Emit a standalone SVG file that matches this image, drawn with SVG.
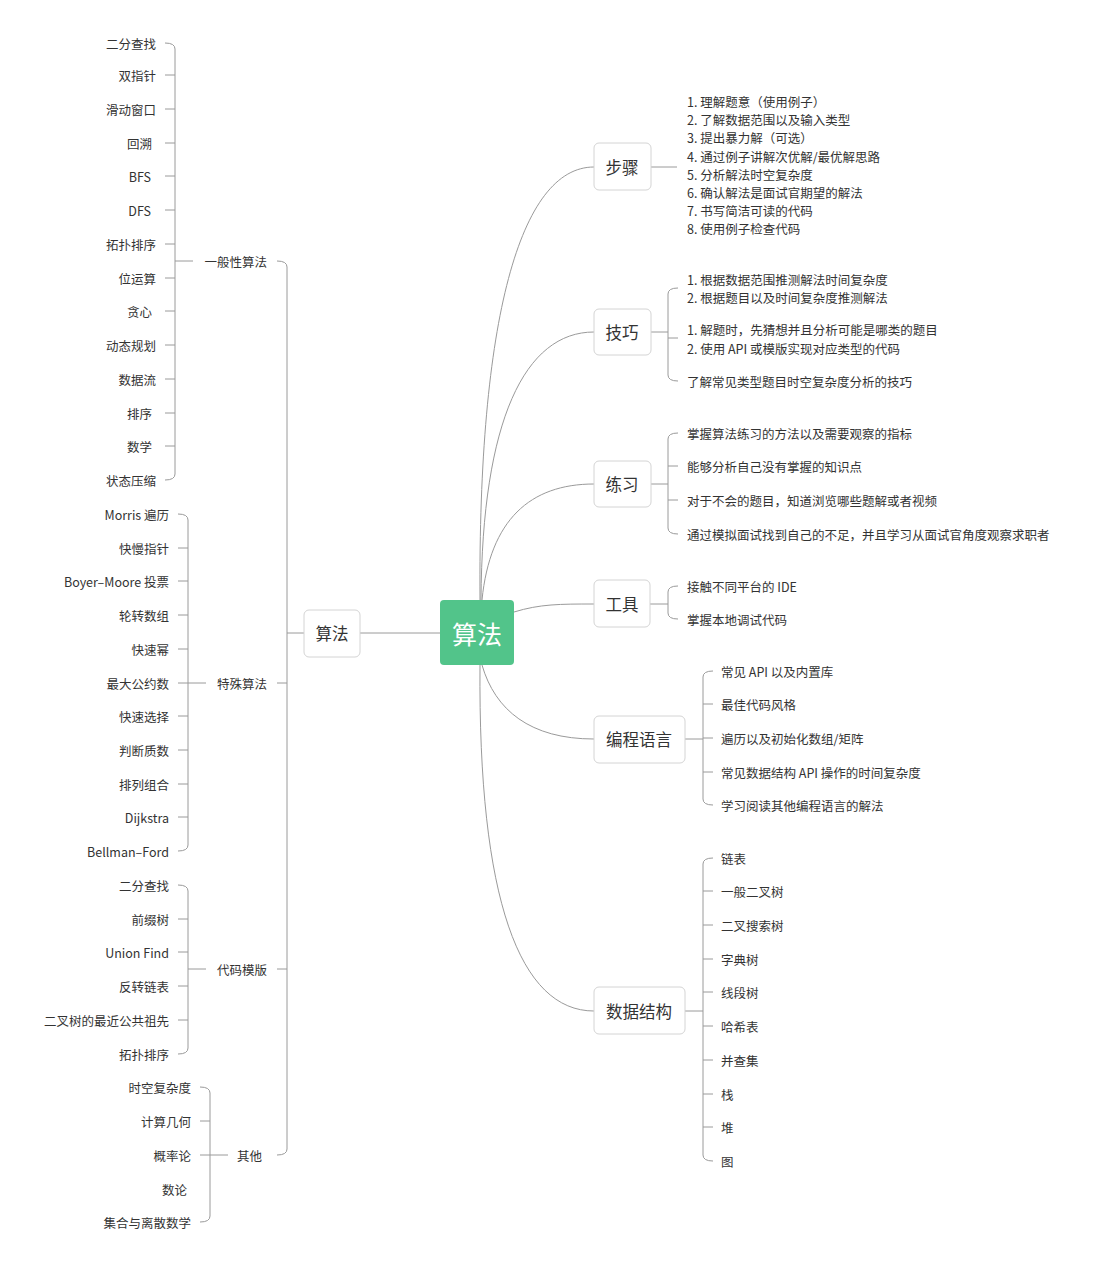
<svg xmlns="http://www.w3.org/2000/svg" width="1103" height="1266" viewBox="0 0 1103 1266">
<style>
text{font-family:"Noto Sans CJK SC","Noto Sans",sans-serif;fill:#333;font-size:12.5px;dominant-baseline:central}
.r{text-anchor:end}
.b{font-size:16.5px;text-anchor:middle}
.ln{fill:none;stroke:#9a9a9a;stroke-width:1}
.box{fill:#fff;stroke:#d4d4d4;stroke-width:1}
</style>
<rect width="1103" height="1266" fill="#fff"/>
<g id="connectors" class="ln">
<path d="M480 600 C478 320 520 167 594 167"/>
<path d="M481 600 C482 420 525 332 594 332"/>
<path d="M482 600 C490 520 530 484 594 484"/>
<path d="M514 612 C540 604 560 604 594 604"/>
<path d="M482 665 C495 710 530 739 594 739"/>
<path d="M480 665 C478 900 520 1011 594 1011"/>
<path d="M360 633 L440 633"/>
<path d="M287 633 L304 633"/>
<path d="M277 261 Q287 261 287 267 L287 1149 Q287 1155 277 1155 M277 683 L287 683 M277 969 L287 969"/>
<path d="M165 43 Q175 43 175 49 L175 474 Q175 480 165 480 M165 75 L175 75 M165 109 L175 109 M165 143 L175 143 M165 176 L175 176 M165 210 L175 210 M165 244 L175 244 M165 278 L175 278 M165 311 L175 311 M165 345 L175 345 M165 379 L175 379 M165 413 L175 413 M165 446 L175 446 M175 261 L193 261"/>
<path d="M178 514 Q188 514 188 520 L188 845 Q188 851 178 851 M178 548 L188 548 M178 581 L188 581 M178 615 L188 615 M178 649 L188 649 M178 683 L188 683 M178 716 L188 716 M178 750 L188 750 M178 784 L188 784 M178 817 L188 817 M188 683 L206 683"/>
<path d="M178 885 Q188 885 188 891 L188 1048 Q188 1054 178 1054 M178 919 L188 919 M178 952 L188 952 M178 986 L188 986 M178 1020 L188 1020 M188 969 L206 969"/>
<path d="M200 1087 Q210 1087 210 1093 L210 1216 Q210 1222 200 1222 M200 1121 L210 1121 M200 1155 L210 1155 M210 1155 L228 1155"/>
<path d="M651 167 L677 167"/>
<path d="M651 332 L668 332 M678 288 Q668 288 668 294 L668 375 Q668 381 678 381 M668 338 L678 338"/>
<path d="M651 484 L668 484 M678 433 Q668 433 668 439 L668 528 Q668 534 678 534 M668 466 L678 466 M668 500 L678 500"/>
<path d="M650 604 L668 604 M678 586 Q668 586 668 592 L668 613 Q668 619 678 619"/>
<path d="M685 739 L703 739 M713 671 Q703 671 703 677 L703 799 Q703 805 713 805 M703 704 L713 704 M703 738 L713 738 M703 772 L713 772"/>
<path d="M685 1011 L703 1011 M713 858 Q703 858 703 864 L703 1155 Q703 1161 713 1161 M703 891 L713 891 M703 925 L713 925 M703 959 L713 959 M703 992 L713 992 M703 1026 L713 1026 M703 1060 L713 1060 M703 1094 L713 1094 M703 1127 L713 1127"/>
</g>
<g id="root"><rect x="440" y="600" width="74" height="65" rx="4" fill="#52c48a"/><text x="477" y="633" class="b" style="font-size:25px;fill:#fff">算法</text></g>
<g id="algo"><rect class="box" x="304" y="610" width="56" height="47" rx="5"/><text x="332" y="633" class="b">算法</text></g>
<g id="general"><text x="267" y="261" class="r">一般性算法</text>
<text x="156" y="43" class="r">二分查找</text><text x="156" y="75" class="r">双指针</text><text x="156" y="109" class="r">滑动窗口</text><text x="152" y="143" class="r">回溯</text><text x="151" y="176" class="r">BFS</text><text x="151" y="210" class="r">DFS</text><text x="156" y="244" class="r">拓扑排序</text><text x="156" y="278" class="r">位运算</text><text x="152" y="311" class="r">贪心</text><text x="156" y="345" class="r">动态规划</text><text x="156" y="379" class="r">数据流</text><text x="152" y="413" class="r">排序</text><text x="152" y="446" class="r">数学</text><text x="156" y="480" class="r">状态压缩</text></g>
<g id="special"><text x="267" y="683" class="r">特殊算法</text>
<text x="169" y="514" class="r">Morris 遍历</text><text x="169" y="548" class="r">快慢指针</text><text x="169" y="581" class="r">Boyer–Moore 投票</text><text x="169" y="615" class="r">轮转数组</text><text x="169" y="649" class="r">快速幂</text><text x="169" y="683" class="r">最大公约数</text><text x="169" y="716" class="r">快速选择</text><text x="169" y="750" class="r">判断质数</text><text x="169" y="784" class="r">排列组合</text><text x="169" y="817" class="r">Dijkstra</text><text x="169" y="851" class="r">Bellman–Ford</text></g>
<g id="template"><text x="267" y="969" class="r">代码模版</text>
<text x="169" y="885" class="r">二分查找</text><text x="169" y="919" class="r">前缀树</text><text x="169" y="952" class="r">Union Find</text><text x="169" y="986" class="r">反转链表</text><text x="169" y="1020" class="r">二叉树的最近公共祖先</text><text x="169" y="1054" class="r">拓扑排序</text></g>
<g id="other"><text x="262" y="1155" class="r">其他</text>
<text x="191" y="1087" class="r">时空复杂度</text><text x="191" y="1121" class="r">计算几何</text><text x="191" y="1155" class="r">概率论</text><text x="187" y="1189" class="r">数论</text><text x="191" y="1222" class="r">集合与离散数学</text></g>
<g id="steps"><rect class="box" x="594" y="143" width="57" height="47" rx="5"/><text x="622" y="167" class="b">步骤</text>
<text x="687" y="101">1. 理解题意（使用例子）</text><text x="687" y="119">2. 了解数据范围以及输入类型</text><text x="687" y="137">3. 提出暴力解（可选）</text><text x="687" y="156">4. 通过例子讲解次优解/最优解思路</text><text x="687" y="174">5. 分析解法时空复杂度</text><text x="687" y="192">6. 确认解法是面试官期望的解法</text><text x="687" y="210">7. 书写简洁可读的代码</text><text x="687" y="228">8. 使用例子检查代码</text></g>
<g id="tips"><rect class="box" x="594" y="309" width="57" height="46" rx="5"/><text x="622" y="332" class="b">技巧</text>
<text x="687" y="279">1. 根据数据范围推测解法时间复杂度</text><text x="687" y="297">2. 根据题目以及时间复杂度推测解法</text><text x="687" y="329">1. 解题时，先猜想并且分析可能是哪类的题目</text><text x="687" y="348">2. 使用 API 或模版实现对应类型的代码</text><text x="687" y="381">了解常见类型题目时空复杂度分析的技巧</text></g>
<g id="practice"><rect class="box" x="594" y="461" width="57" height="46" rx="5"/><text x="622" y="484" class="b">练习</text>
<text x="687" y="433">掌握算法练习的方法以及需要观察的指标</text><text x="687" y="466">能够分析自己没有掌握的知识点</text><text x="687" y="500">对于不会的题目，知道浏览哪些题解或者视频</text><text x="687" y="534">通过模拟面试找到自己的不足，并且学习从面试官角度观察求职者</text></g>
<g id="tools"><rect class="box" x="594" y="580" width="56" height="47" rx="5"/><text x="622" y="604" class="b">工具</text>
<text x="687" y="586">接触不同平台的 IDE</text><text x="687" y="619">掌握本地调试代码</text></g>
<g id="lang"><rect class="box" x="594" y="716" width="91" height="47" rx="5"/><text x="639" y="739" class="b">编程语言</text>
<text x="721" y="671">常见 API 以及内置库</text><text x="721" y="704">最佳代码风格</text><text x="721" y="738">遍历以及初始化数组/矩阵</text><text x="721" y="772">常见数据结构 API 操作的时间复杂度</text><text x="721" y="805">学习阅读其他编程语言的解法</text></g>
<g id="ds"><rect class="box" x="594" y="987" width="91" height="47" rx="5"/><text x="639" y="1011" class="b">数据结构</text>
<text x="721" y="858">链表</text><text x="721" y="891">一般二叉树</text><text x="721" y="925">二叉搜索树</text><text x="721" y="959">字典树</text><text x="721" y="992">线段树</text><text x="721" y="1026">哈希表</text><text x="721" y="1060">并查集</text><text x="721" y="1094">栈</text><text x="721" y="1127">堆</text><text x="721" y="1161">图</text></g>
</svg>
